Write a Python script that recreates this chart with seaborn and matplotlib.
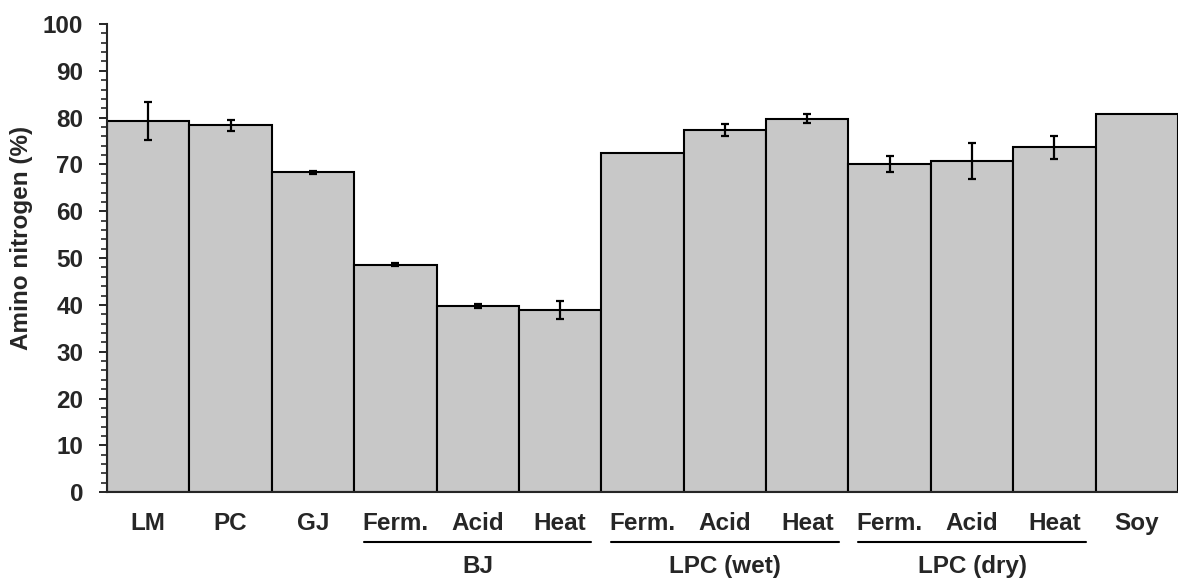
import matplotlib
matplotlib.use("Agg")
import matplotlib.pyplot as plt
import pandas as pd
import seaborn as sns

# datos
etiquetas = ["LM", "PC", "GJ",
             "Ferm.", "Acid", "Heat",
             "Ferm.", "Acid", "Heat",
             "Ferm.", "Acid", "Heat",
             "Soy"]
valores = [79.3, 78.4, 68.3, 48.6, 39.8, 38.9, 72.4, 77.3, 79.8, 70.1, 70.7, 73.7, 80.8]
errores = [4.1, 1.2, 0.3, 0.3, 0.4, 2.0, 0.0, 1.3, 1.0, 1.7, 3.85, 2.45, 0.0]
grupos = [("BJ", 3, 5), ("LPC (wet)", 6, 8), ("LPC (dry)", 9, 11)]

sns.set_style("ticks")
plt.rcParams["font.family"] = ["Liberation Sans", "DejaVu Sans"]
plt.rcParams["font.weight"] = "bold"

TAM = 17.5

df = pd.DataFrame({
    "clave": [f"{i}_{e}" for i, e in enumerate(etiquetas)],
    "valor": valores,
})

fig = plt.figure(figsize=(11.78, 5.79), dpi=100)
ax = fig.add_axes([0.0908, 0.150, 0.9092, 0.8085])

sns.barplot(data=df, x="clave", y="valor", order=list(df["clave"]),
            color="#c8c8c8", saturation=1, width=1.0,
            edgecolor="black", linewidth=1.5, ax=ax)

pos = list(range(len(valores)))
con_error = [i for i in pos if errores[i] > 0]
ax.errorbar([pos[i] for i in con_error], [valores[i] for i in con_error],
            yerr=[errores[i] for i in con_error], fmt="none",
            ecolor="black", elinewidth=1.6, capsize=2.7, capthick=1.6, zorder=5)

ax.set_xlim(-0.5, len(valores) - 0.5)
ax.set_ylim(0, 100)
ax.set_yticks(range(0, 101, 10))
ax.set_yticks(range(0, 101, 2), minor=True)
ax.set_xticks(pos)
ax.set_xticklabels(etiquetas, fontsize=TAM, fontweight="bold")
ax.tick_params(axis="y", which="major", length=6, width=1.4, pad=11, labelsize=TAM)
ax.tick_params(axis="y", which="minor", length=4, width=1.2)
ax.tick_params(axis="x", length=0, pad=14)
for t in ax.get_yticklabels():
    t.set_fontweight("bold")

ax.set_xlabel("")
ax.set_ylabel("Amino nitrogen (%)", fontsize=TAM, fontweight="bold")
ax.yaxis.set_label_coords(-0.069, 0.543)

sns.despine(ax=ax)
ax.spines["left"].set_linewidth(1.5)
ax.spines["bottom"].set_linewidth(1.5)

# etiquetas de grupo con línea debajo
trans = ax.get_xaxis_transform()
for nombre, ini, fin in grupos:
    ax.plot([ini - 0.38, fin + 0.38], [-0.107, -0.107], color="black", lw=1.5,
            transform=trans, clip_on=False)
    ax.text((ini + fin) / 2, -0.158, nombre, transform=trans, ha="center",
            va="center", fontsize=TAM, fontweight="bold")

fig.savefig("out.png", dpi=100)
